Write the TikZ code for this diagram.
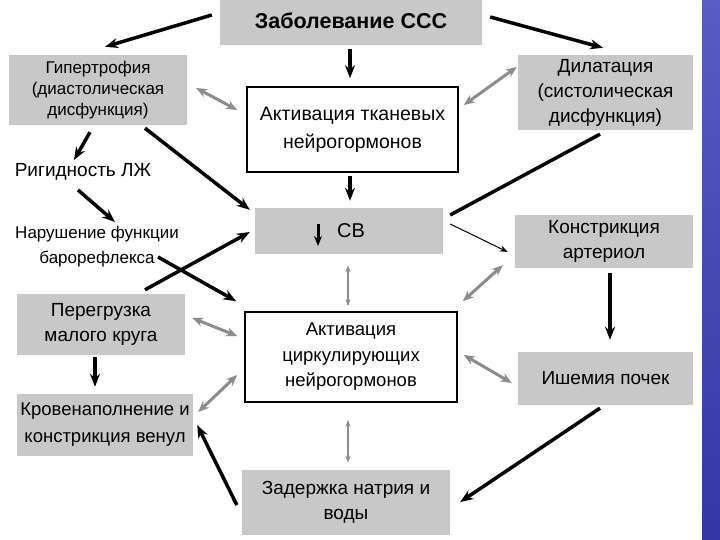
\documentclass[tikz,border=0pt]{standalone}
\usepackage{fontspec}
\setmainfont{Liberation Sans}
\usetikzlibrary{arrows.meta,calc}
\definecolor{boxgray}{RGB}{200,200,200}
\definecolor{arrgray}{RGB}{140,140,140}
\definecolor{stripblueA}{RGB}{88,92,196}
\definecolor{stripblueB}{RGB}{52,54,166}
\begin{document}
\begin{tikzpicture}[x=1pt,y=-1pt,
  txt/.style={inner sep=0pt, align=center, font=\fontsize{19}{25}\selectfont},
  gbox/.style={txt, fill=boxgray},
  wbox/.style={txt, draw=black, line width=1.6pt, fill=white},
  barrow/.style={line width=3.5pt, -{Stealth[length=13pt,width=10pt]}},
  bline/.style={line width=3.5pt},
  tarrow/.style={line width=1pt, -{Stealth[length=8pt,width=6pt]}},
  garrow/.style={draw=arrgray, line width=3pt, {Stealth[length=11pt,width=9pt]}-{Stealth[length=11pt,width=9pt]}},
  gthin/.style={draw=arrgray, line width=1.2pt, {Stealth[length=7pt,width=5pt]}-{Stealth[length=7pt,width=5pt]}}
]
\useasboundingbox (0,0) rectangle (720,540);
\fill[white] (0,0) rectangle (720,540);
\shade[top color=stripblueA, bottom color=stripblueB] (702,0) rectangle (720,540);

% boxes
\node[gbox, minimum width=262pt, minimum height=45pt, font=\fontsize{21.5}{25}\selectfont\bfseries] (top) at (351,22.5) {\raisebox{4pt}{Заболевание ССС}};
\node[gbox, minimum width=178pt, minimum height=70pt, font=\fontsize{17}{21}\selectfont] (hyp) at (98,90) {Гипертрофия\\(диастолическая\\дисфункция)};
\node[gbox, minimum width=175pt, minimum height=75pt] (dil) at (605.5,92.5) {Дилатация\\(систолическая\\дисфункция)};
\node[wbox, minimum width=211pt, minimum height=85pt, font=\fontsize{19.5}{28}\selectfont] (akt1) at (352.5,129.5) {Активация тканевых\\нейрогормонов};
\node[txt] (rig) at (83,172) {Ригидность ЛЖ};
\node[txt, font=\fontsize{17}{25}\selectfont] (bar) at (97,247) {Нарушение функции\\барорефлекса};
\node[gbox, minimum width=188pt, minimum height=46pt, font=\fontsize{20}{25}\selectfont] (sv) at (349,231) {\hspace*{4pt}СВ};
\node[gbox, minimum width=178pt, minimum height=53pt] (kon) at (604,241.5) {\raisebox{2pt}{\parbox{170pt}{\centering Констрикция\\артериол}}};
\node[gbox, minimum width=168pt, minimum height=61pt] (per) at (101,324.5) {\raisebox{3pt}{\parbox{160pt}{\centering Перегрузка\\малого круга}}};
\node[wbox, minimum width=212pt, minimum height=90pt, font=\fontsize{18.5}{25.5}\selectfont] (akt2) at (351,357) {Активация\\циркулирующих\\нейрогормонов};
\node[gbox, minimum width=175pt, minimum height=53pt] (ish) at (605.5,378.5) {Ишемия почек};
\node[gbox, minimum width=176pt, minimum height=62pt, font=\fontsize{18.5}{27}\selectfont] (krov) at (105,425) {Кровенаполнение и\\констрикция венул};
\node[gbox, minimum width=208pt, minimum height=65pt] (zad) at (346,502.5) {Задержка натрия и\\воды};

% arrow inside the CB box
\draw[line width=3pt, -{Stealth[length=10pt,width=8pt]}] ($(sv.center)+(-31,-7)$) -- ($(sv.center)+(-31,15)$);

% black connectors
\draw[barrow] ($(top.west)+(-8,-7.5)$) -- ($(hyp.north)+(7,-8)$);
\draw[barrow] ($(top.east)+(8,-5.5)$) -- ($(dil.north)+(-2.5,-7)$);
\draw[barrow] ($(top.south)+(-1,4)$) -- ($(akt1.north)+(-2.5,-8)$);
\draw[barrow] ($(akt1.south)+(-2.5,3)$) -- ($(sv.north)+(1,-7)$);
\draw[barrow] ($(hyp.south)+(47,3)$) -- ($(sv.north west)+(-5,2)$);
\draw[barrow] ($(hyp.south)+(-8,7)$) -- ($(rig.center)+(-9,-12)$);
\draw[barrow] ($(rig.center)+(-5,18)$) -- ($(bar.center)+(18,-25)$);
\draw[barrow] ($(bar.center)+(61,10)$) -- ($(akt2.north west)+(-8,-10)$);
\draw[barrow] ($(per.north)+(44,-4)$) -- ($(sv.west)+(-5,1)$);
\draw[barrow] ($(per.south)+(-6,2)$) -- ($(krov.north)+(-10,-7)$);
\draw[barrow] ($(zad.west)+(-5,2.5)$) -- ($(krov.east)+(4,0)$);
\draw[bline] ($(dil.south)+(-5.5,4)$) -- ($(sv.east)+(7,-16)$);
\draw[tarrow] ($(sv.east)+(7,-7)$) -- ($(kon.west)+(-7,10.5)$);
\draw[barrow] ($(kon.south)+(6,5)$) -- ($(ish.north)+(4.5,-12)$);
\draw[barrow] ($(ish.south)+(-5.5,3)$) -- ($(zad.east)+(10,-0.5)$);

% gray two-way connectors
\draw[garrow] ($(hyp.east)+(9,-2)$) -- ($(akt1.west)+(-9,-19.5)$);
\draw[garrow] ($(dil.west)+(-1,-25.5)$) -- ($(akt1.east)+(5,-24.5)$);
\draw[garrow] ($(per.east)+(7,-6.5)$) -- ($(akt2.west)+(-7,-21)$);
\draw[garrow] ($(krov.east)+(5,-13)$) -- ($(akt2.west)+(-7,18)$);
\draw[garrow] ($(kon.south west)+(-12,-3)$) -- ($(akt2.north east)+(5,-10)$);
\draw[garrow] ($(ish.west)+(-6,4.5)$) -- ($(akt2.east)+(6,-2)$);
\draw[gthin] ($(sv.south)+(-1,11)$) -- ($(akt2.north)+(-3,-5)$);
\draw[gthin] ($(akt2.south)+(-3,17)$) -- ($(zad.north)+(2,-7)$);
\end{tikzpicture}
\end{document}
